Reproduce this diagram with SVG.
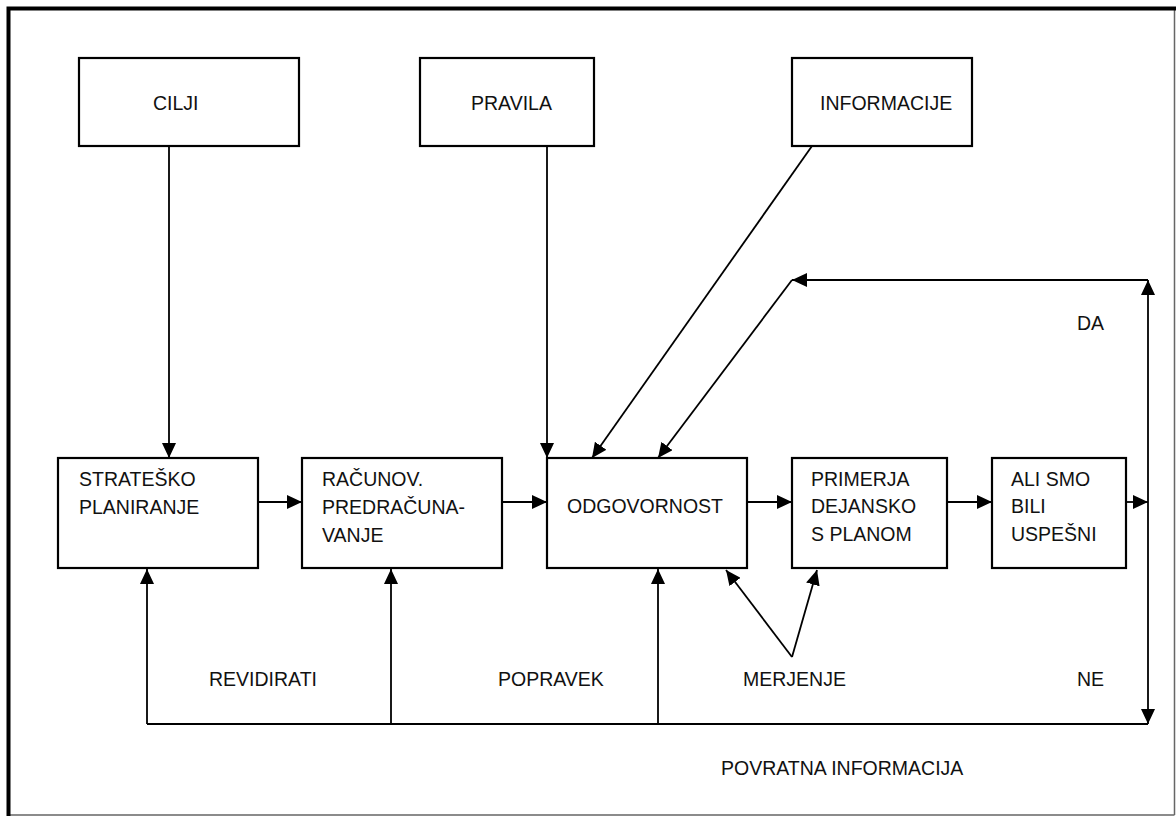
<svg xmlns="http://www.w3.org/2000/svg" width="1176" height="816" viewBox="0 0 1176 816">
  <defs>
    <marker id="ah" markerUnits="userSpaceOnUse" markerWidth="15" markerHeight="14" refX="15" refY="7" orient="auto">
      <path d="M0,0 L15,7 L0,14 z" fill="#000"/>
    </marker>
    <style>
      .box { fill: #fff; stroke: #000; stroke-width: 2.2; }
      .lbl { font-family: "Liberation Sans", Arial, sans-serif; font-size: 19.5px; fill: #111; }
      .con { fill: none; stroke: #000; stroke-width: 1.8; }
      .arr { fill: none; stroke: #000; stroke-width: 1.8; marker-end: url(#ah); }
    </style>
  </defs>
  <rect x="0" y="0" width="1176" height="816" fill="#fff"/>
  <g id="frame">
    <path d="M1174.5,815 L1174.5,8.5 M8.5,815 L1174.5,815" fill="none" stroke="#666" stroke-width="1.5"/>
    <path d="M8.5,816 L8.5,8.5 L1176,8.5" fill="none" stroke="#000" stroke-width="4"/>
  </g>
  <g id="connectors">
    <line class="arr" x1="169" y1="146" x2="169" y2="458"/>
    <line class="arr" x1="547" y1="146" x2="547" y2="458"/>
    <line class="arr" x1="812" y1="146" x2="592" y2="458"/>
    <line class="arr" x1="258" y1="502" x2="302" y2="502"/>
    <line class="arr" x1="502" y1="502" x2="547" y2="502"/>
    <line class="arr" x1="747" y1="502" x2="792" y2="502"/>
    <line class="arr" x1="947" y1="502" x2="992" y2="502"/>
    <line class="arr" x1="1126" y1="502" x2="1148" y2="502"/>
    <line class="arr" x1="1148" y1="502" x2="1148" y2="280"/>
    <line class="arr" x1="1148" y1="280" x2="792" y2="280"/>
    <line class="arr" x1="792" y1="280" x2="658" y2="458"/>
    <line class="arr" x1="1148" y1="502" x2="1148" y2="724"/>
    <line class="con" x1="147" y1="724" x2="1148" y2="724"/>
    <line class="arr" x1="147" y1="724" x2="147" y2="569"/>
    <line class="arr" x1="391" y1="724" x2="391" y2="569"/>
    <line class="arr" x1="658" y1="724" x2="658" y2="569"/>
    <line class="arr" x1="792" y1="657" x2="726" y2="570"/>
    <line class="arr" x1="792" y1="657" x2="817" y2="570"/>
  </g>
  <g id="cilji">
    <rect class="box" x="79" y="58" width="220" height="88"/>
    <text class="lbl" x="153" y="110">CILJI</text>
  </g>
  <g id="pravila">
    <rect class="box" x="420" y="58" width="174" height="88"/>
    <text class="lbl" x="471" y="110">PRAVILA</text>
  </g>
  <g id="informacije">
    <rect class="box" x="792" y="58" width="180" height="88"/>
    <text class="lbl" x="820" y="110">INFORMACIJE</text>
  </g>
  <g id="stratesko">
    <rect class="box" x="58" y="458" width="200" height="110"/>
    <text class="lbl" x="79" y="486">STRATEŠKO</text>
    <text class="lbl" x="79" y="514">PLANIRANJE</text>
  </g>
  <g id="racunov">
    <rect class="box" x="302" y="458" width="200" height="110"/>
    <text class="lbl" x="322" y="486">RAČUNOV.</text>
    <text class="lbl" x="322" y="514">PREDRAČUNA-</text>
    <text class="lbl" x="322" y="542">VANJE</text>
  </g>
  <g id="odgovornost">
    <rect class="box" x="547" y="458" width="200" height="110"/>
    <text class="lbl" x="567" y="513">ODGOVORNOST</text>
  </g>
  <g id="primerja">
    <rect class="box" x="792" y="458" width="155" height="110"/>
    <text class="lbl" x="811" y="486">PRIMERJA</text>
    <text class="lbl" x="811" y="513">DEJANSKO</text>
    <text class="lbl" x="811" y="541">S PLANOM</text>
  </g>
  <g id="alismo">
    <rect class="box" x="992" y="458" width="134" height="110"/>
    <text class="lbl" x="1011" y="486">ALI SMO</text>
    <text class="lbl" x="1011" y="513">BILI</text>
    <text class="lbl" x="1011" y="541">USPEŠNI</text>
  </g>
  <g id="labels">
    <text class="lbl" x="1077" y="330">DA</text>
    <text class="lbl" x="1077" y="686">NE</text>
    <text class="lbl" x="209" y="686">REVIDIRATI</text>
    <text class="lbl" x="498" y="686">POPRAVEK</text>
    <text class="lbl" x="743" y="686">MERJENJE</text>
    <text class="lbl" x="721" y="775">POVRATNA INFORMACIJA</text>
  </g>
</svg>
